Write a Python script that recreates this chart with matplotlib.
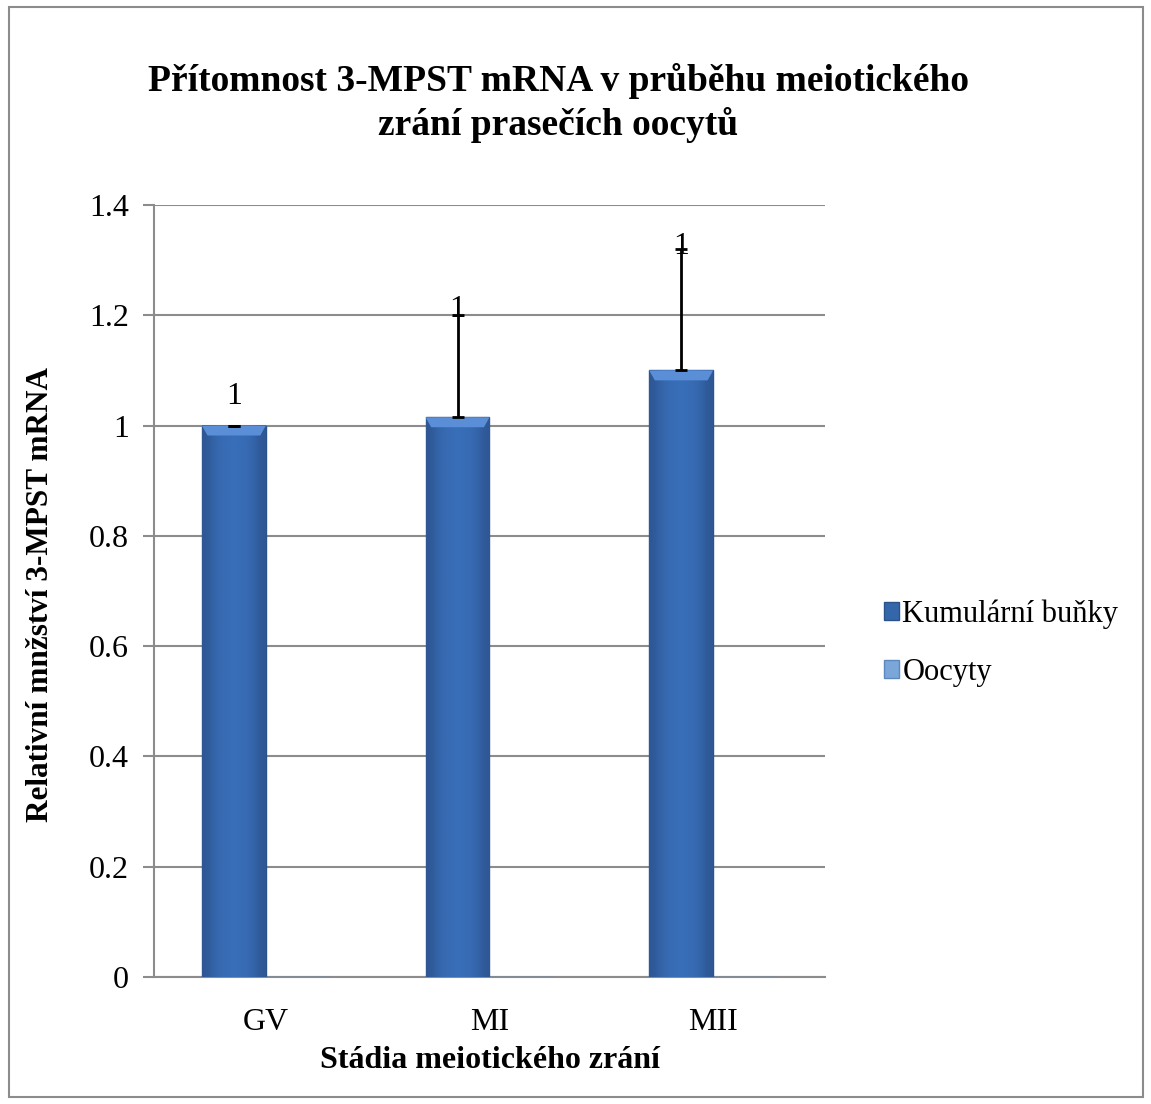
import matplotlib.pyplot as plt
from matplotlib.patches import Rectangle
import numpy as np

plt.rcParams['font.family'] = ['Liberation Serif', 'DejaVu Serif']

# data
stages = ['GV', 'MI', 'MII']
kumularni = [1.0, 1.015, 1.1]
kumularni_err = [0.0, 0.185, 0.22]
oocyty = [0, 0, 0]
labels = ['1', '1', '1']
series_names = ['Kumulární buňky', 'Oocyty']

fig = plt.figure(figsize=(11.51, 11.04), dpi=100)
ax = fig.add_axes([154/1151, 1-977/1104, (825-154)/1151, (977-205)/1104])

# outer chart border
fig.patches.append(Rectangle((9/1151, 7/1104), (1143-9)/1151, (1097-7)/1104,
                             transform=fig.transFigure, fill=False,
                             edgecolor='#8c8c8c', lw=1.5))

x = np.arange(len(stages))
w = 1/3.5
b1 = ax.bar(x - w/2, kumularni, w, color='#3466aa', edgecolor='#2a528c',
            lw=1.0, label=series_names[0], zorder=3)
b2 = ax.bar(x + w/2, oocyty, w, color='#7ba6da', edgecolor='#5a88bf',
            lw=1.0, label=series_names[1], zorder=3)

# shaded fill: darker at the sides, lighter in the middle, bevel at top
grad = np.array([[0.0, 0.6, 0.9, 1.0, 1.0, 0.9, 0.6, 0.0]])
dark = np.array([0.18, 0.34, 0.58])
light = np.array([0.22, 0.43, 0.72])
img = dark + (light - dark) * grad[..., None]
for rect in b1:
    x0, h, bw = rect.get_x(), rect.get_height(), rect.get_width()
    ax.imshow(img, extent=(x0, x0 + bw, 0, h), aspect='auto',
              interpolation='bicubic', zorder=3.2)
    ax.add_patch(plt.Polygon([(x0, h), (x0 + bw, h), (x0 + bw - 0.025, h - 0.018),
                              (x0 + 0.025, h - 0.018)], closed=True,
                             color='#5a8fd8', lw=0, zorder=3.5))
ax.errorbar(x - w/2, kumularni, yerr=[[0]*3, kumularni_err], fmt='none',
            ecolor='black', elinewidth=2, capsize=4.5, capthick=2, zorder=4)

label_offsets = [0.052, 0.01, 0.004]
for xi, v, e, t, off in zip(x - w/2, kumularni, kumularni_err, labels, label_offsets):
    ax.text(xi, v + e + off, t, ha='center', va='center', fontsize=23, zorder=5)

ax.set_ylim(0, 1.4)
ax.set_xlim(-0.5, 2.5)
ax.set_yticks(np.arange(0, 1.41, 0.2))
ax.set_yticklabels(['0', '0.2', '0.4', '0.6', '0.8', '1', '1.2', '1.4'])
ax.set_xticks(x)
ax.set_xticklabels(stages)
ax.tick_params(axis='y', labelsize=23, length=8, width=1.5, color='#8c8c8c', pad=10)
ax.tick_params(axis='x', labelsize=23, length=0, pad=22)
ax.yaxis.grid(True, color='#8c8c8c', lw=1.5, zorder=0)
ax.set_axisbelow(True)
for s in ['top', 'right']:
    ax.spines[s].set_visible(False)
for s in ['left', 'bottom']:
    ax.spines[s].set_color('#8c8c8c')
    ax.spines[s].set_linewidth(1.5)

ax.set_ylabel('Relativní mnžství 3-MPST mRNA', fontsize=22.5, fontweight='bold')
ax.yaxis.set_label_coords((55-154)/671, (977-595)/772)
ax.set_xlabel('Stádia meiotického zrání', fontsize=23, fontweight='bold')
ax.xaxis.set_label_coords(0.5, (977-1046)/772)

fig.text(558/1151, 1-103/1104, 'Přítomnost 3-MPST mRNA v průběhu meiotického\nzrání prasečích oocytů',
         ha='center', va='center', fontsize=27, fontweight='bold', linespacing=1.3)

fig.legend(handles=[b1, b2], labels=series_names, loc='center left',
           bbox_to_anchor=(884/1151, 1-643/1104), frameon=False, fontsize=22,
           handlelength=0.5, handleheight=0.5, handletextpad=0.1, labelspacing=0.95,
           borderpad=0, borderaxespad=0)

fig.savefig('out.png', dpi=100)
